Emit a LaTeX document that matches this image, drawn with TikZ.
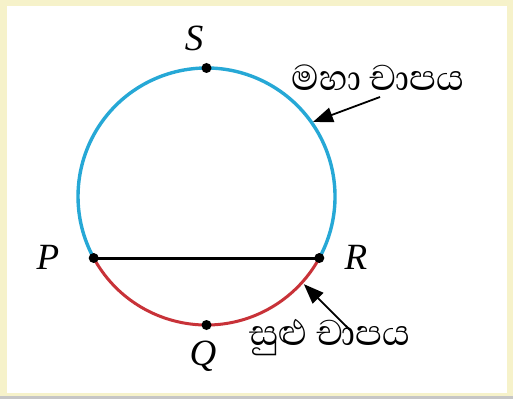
\documentclass[tikz,border=0pt]{standalone}
\usepackage{fontspec}
\newfontfamily\sinhalafont[Script=Sinhala]{Abhaya Libre}
\newfontfamily\labelfont{Liberation Serif}
\usetikzlibrary{arrows.meta,calc}
\definecolor{majcol}{RGB}{38,168,214}
\definecolor{mincol}{RGB}{200,50,56}
\definecolor{framecol}{RGB}{246,242,202}
\tikzset{
  x=1pt,y=1pt,
  ptlabel/.style={font=\labelfont\itshape\fontsize{37}{37}\selectfont, inner sep=0pt},
  sintext/.style={font=\sinhalafont\fontsize{46}{46}\selectfont, inner sep=0pt},
  dotpt/.style={circle, fill=black, inner sep=0pt, minimum size=10pt},
  pointer/.style={line width=1.8pt, -{Triangle[length=20pt,width=15pt]}},
}
\begin{document}
\begin{tikzpicture}
\useasboundingbox (0,0) rectangle (513,399);
\fill[framecol] (0,0) rectangle (513,399);
\fill[white] (7,6) rectangle (507,393);
\fill[gray!45] (0,0) rectangle (513,3);
\coordinate (C) at (206.5,202.5);
% arcs
\draw[majcol, line width=3.4pt] ($(C)+(-28.6:128.5)$) arc[start angle=-28.6, end angle=208.6, radius=128.5pt];
\draw[mincol, line width=3pt] ($(C)+(208.6:128.5)$) arc[start angle=208.6, end angle=331.4, radius=128.5pt];
% points
\node[dotpt] (P) at ($(C)+(208.6:128.5)$) {};
\node[dotpt] (R) at ($(C)+(-28.6:128.5)$) {};
\node[dotpt] (S) at ($(C)+(90:128.5)$) {};
\node[dotpt] (Q) at ($(C)+(-90:128.5)$) {};
\draw[line width=3pt] (P.center) -- (R.center);
% labels
\node[ptlabel] (Sl) at (194,361) {S};
\node[ptlabel] (Pl) at (48,142) {P};
\node[ptlabel] (Rl) at (356,142) {R};
\node[ptlabel] (Ql) at (203,43) {Q};
% texts
\node[sintext] (maj) at (378,321) {මහා චාපය};
\node[sintext] (min) at (330,61) {සුළු චාපය};
\coordinate (majtip) at ($(C)+(35:130)$);
\coordinate (mintip) at ($(C)+(-42:131)$);
\coordinate (majstart) at (380,302);
\coordinate (minstart) at (350,69);
\draw[pointer] (majstart) -- (majtip);
\draw[pointer] (minstart) -- (mintip);
\end{tikzpicture}
\end{document}
